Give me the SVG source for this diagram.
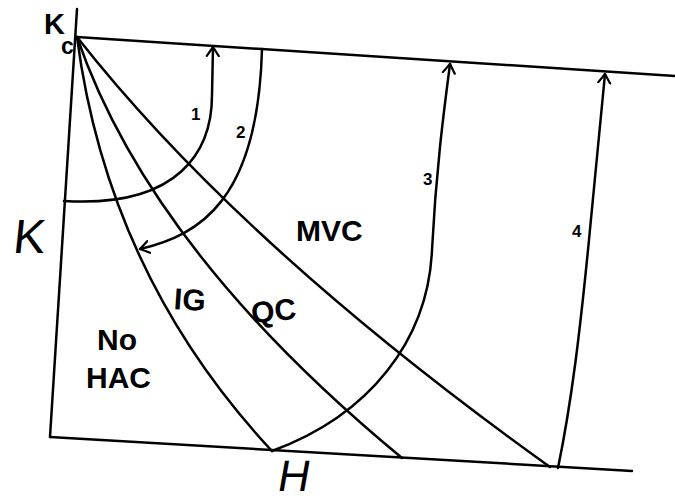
<svg xmlns="http://www.w3.org/2000/svg" width="675" height="501" viewBox="0 0 675 501">
<style>
.ln{fill:none;stroke:#000;stroke-width:2.5;stroke-linecap:round;stroke-linejoin:round}
.lbl{font-family:"Liberation Sans",Arial,sans-serif;font-weight:bold;fill:#000}
.ax{font-family:"Liberation Sans",Arial,sans-serif;fill:#000}
</style>
<defs>
<marker id="arr" viewBox="-10 -8 12 16" markerWidth="12" markerHeight="16" refX="0" refY="0" orient="auto" markerUnits="userSpaceOnUse">
<polyline points="-9,-6 0,0 -9,6" fill="none" stroke="#000" stroke-width="2.2" stroke-linecap="round" stroke-linejoin="round"/>
</marker>
</defs>
<rect width="675" height="501" fill="#fff"/>
<g id="axes">
<path class="ln" d="M77,9 L50,437"/>
<path class="ln" d="M77,37 L675,76"/>
<path class="ln" d="M50,437 L632,471"/>
</g>
<g id="connectors">
<path class="ln" d="M77,37 Q108,275 272,451"/>
<path class="ln" d="M77,37 Q150,250 402,458"/>
<path class="ln" d="M77,37 Q240,245 550,467"/>
<path class="ln" d="M64,201 C180,208 212,150 212,95 L213,47" marker-end="url(#arr)"/>
<path class="ln" d="M262,49 C258,200 200,235 140,249" marker-end="url(#arr)"/>
<path class="ln" d="M272,451 C370,415 428,340 432,250 C436,170 444,110 450,64" marker-end="url(#arr)"/>
<path class="ln" d="M558,468 C572,400 580,330 588,250 L605,74" marker-end="url(#arr)"/>
</g>
<g id="labels">
<text class="lbl" x="44" y="34" font-size="29">K</text>
<text class="lbl" x="61" y="54" font-size="23">c</text>
<text class="ax" x="0" y="0" font-size="48" transform="translate(12 253) skewX(-6)">K</text>
<text class="ax" x="0" y="0" font-size="44" transform="translate(276 491) skewX(-10)">H</text>
<text class="lbl" x="191" y="120" font-size="17">1</text>
<text class="lbl" x="236" y="138" font-size="17">2</text>
<text class="lbl" x="423" y="185" font-size="17">3</text>
<text class="lbl" x="572" y="237" font-size="17">4</text>
<text class="lbl" x="296" y="241" font-size="30">MVC</text>
<text class="lbl" x="174" y="310" font-size="30" transform="rotate(4 188 300)">IG</text>
<text class="lbl" x="251" y="321" font-size="30" transform="rotate(-6 276 310)">QC</text>
<text class="lbl" x="97" y="350" font-size="30">No</text>
<text class="lbl" x="86" y="388" font-size="30">HAC</text>
</g>
</svg>
